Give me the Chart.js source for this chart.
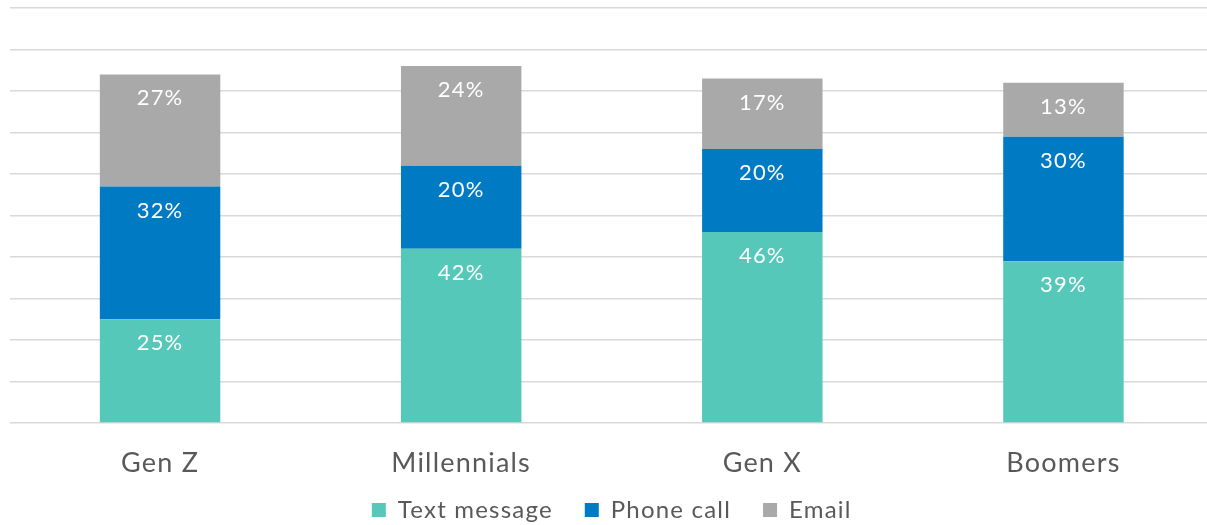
<!DOCTYPE html>
<html>
<head>
<meta charset="utf-8">
<script src="https://cdn.jsdelivr.net/npm/chart.js@4.4.1/dist/chart.umd.min.js"></script>
<style>
  html, body { margin: 0; padding: 0; background: #ffffff; overflow: hidden; }
  #wrap { width: 1214px; height: 532px; position: relative; }
</style>
</head>
<body>
<div id="wrap"><canvas id="chart"></canvas></div>
<script>
// Preferred contact channel by generation (share of respondents, %)
const generations = ['Gen Z', 'Millennials', 'Gen X', 'Boomers'];
const textMessage = [25, 42, 46, 39];
const phoneCall   = [32, 20, 20, 30];
const email       = [27, 24, 17, 13];
const yTicks = [0, 10, 20, 30, 40, 50, 60, 70, 80, 90, 100];

const FONT = 'Lato, "Open Sans", sans-serif';

// Slightly open tracking for all canvas text
const tracking = {
  id: 'tracking',
  beforeUpdate(chart) { chart.ctx.letterSpacing = '1.2px'; },
  beforeDraw(chart) { chart.ctx.letterSpacing = '1.2px'; }
};

// The category axis box is kept short so the legend sits close to the bars;
// let its labels draw past that box instead of being clipped.
const looseCategoryLabels = {
  id: 'looseCategoryLabels',
  afterLayout(chart) { chart.scales.x.bottom += 40; }
};

// Writes each segment's percentage near the top of the segment
const segmentLabels = {
  id: 'segmentLabels',
  afterDatasetsDraw(chart) {
    const ctx = chart.ctx;
    ctx.save();
    ctx.fillStyle = '#ffffff';
    ctx.font = '22px ' + FONT;
    ctx.textAlign = 'center';
    ctx.textBaseline = 'middle';
    chart.data.datasets.forEach((ds, i) => {
      chart.getDatasetMeta(i).data.forEach((bar, j) => {
        ctx.fillText(ds.data[j] + '%', bar.x, bar.y + 24);
      });
    });
    ctx.restore();
  }
};

new Chart(document.getElementById('chart'), {
  type: 'bar',
  data: {
    labels: generations,
    datasets: [
      { label: 'Text message', data: textMessage, backgroundColor: '#56C8B9' },
      { label: 'Phone call',   data: phoneCall,   backgroundColor: '#007BC3' },
      { label: 'Email',        data: email,       backgroundColor: '#A9A9A9' }
    ]
  },
  options: {
    responsive: true,
    maintainAspectRatio: false,
    animation: false,
    layout: { padding: { left: 9.5, right: 0, top: 8, bottom: 0 } },
    datasets: { bar: { categoryPercentage: 1, barPercentage: 0.4, borderWidth: 0 } },
    plugins: {
      legend: {
        position: 'bottom',
        labels: {
          font: { family: FONT, size: 24 },
          color: '#595959',
          boxWidth: 14,
          boxHeight: 14,
          padding: 32
        }
      },
      tooltip: { enabled: false }
    },
    scales: {
      x: {
        stacked: true,
        grid: { display: false },
        border: { display: false },
        ticks: { font: { family: FONT, size: 27 }, color: '#595959', padding: 16 },
        afterFit(scale) { scale.height = 43; }
      },
      y: {
        stacked: true,
        min: 0,
        max: 100,
        afterBuildTicks(scale) { scale.ticks = yTicks.map(v => ({ value: v })); },
        ticks: { display: false },
        grid: { color: '#d9d9d9', lineWidth: 1.5, drawTicks: false },
        border: { display: false },
        afterFit(scale) { scale.width = 0; }
      }
    }
  },
  plugins: [tracking, looseCategoryLabels, segmentLabels]
});
</script>
</body>
</html>
